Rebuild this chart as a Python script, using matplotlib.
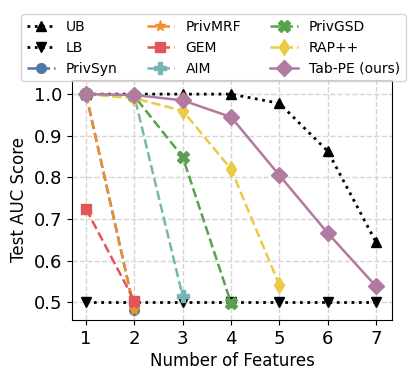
import matplotlib.pyplot as plt
import numpy as np

n_features = [1, 2, 3, 4, 5, 6, 7]

ub = [1.0, 1.0, 1.0, 1.0, 0.978, 0.863, 0.644]
lb = [0.5, 0.5, 0.5, 0.5, 0.5, 0.5, 0.5]
privsyn = [1.0, 0.481]
privmrf = [1.0, 0.481]
gem = [0.724, 0.503]
aim = [1.0, 0.995, 0.514]
privgsd = [1.0, 0.995, 0.849, 0.498]
rappp = [1.0, 0.99, 0.96, 0.82, 0.541]
tabpe = [1.0, 0.998, 0.985, 0.945, 0.805, 0.666, 0.538]

fig = plt.figure(figsize=(4.09, 3.69), dpi=100)
ax = fig.add_axes([72/409, 1 - 320/369, 320/409, 240/369])

# bounds first so the methods sit on top of them
ax.plot(n_features, ub, ':', color='black', marker='^', markersize=7, lw=2, label='UB')
ax.plot(n_features, lb, ':', color='black', marker='v', markersize=7, lw=2, label='LB')

def dashed(vals, color, marker, label, ms=7):
    ax.plot(n_features[:len(vals)], vals, '--', color=color, marker=marker,
            markersize=ms, lw=1.8, label=label)

dashed(privsyn, '#4e79a7', 'o', 'PrivSyn')
dashed(privmrf, '#f28e2b', '*', 'PrivMRF', ms=8)
dashed(gem, '#e15759', 's', 'GEM')
dashed(aim, '#76b7b2', 'P', 'AIM', ms=8)
dashed(privgsd, '#59a14f', 'X', 'PrivGSD', ms=8)
dashed(rappp, '#edc948', 'd', 'RAP++', ms=8)
ax.plot(n_features, tabpe, '-', color='#b07aa1', marker='D', markersize=8, lw=1.8,
        label='Tab-PE (ours)', zorder=4)

ax.set_xlim(0.71, 7.33)
ax.set_ylim(0.457, 1.034)
ax.set_xticks(n_features)
ax.set_yticks(np.arange(0.5, 1.01, 0.1))
ax.tick_params(labelsize=13)
ax.grid(True, ls='--', color='#d5d5d5', lw=1)
ax.set_axisbelow(True)
ax.set_xlabel('Number of Features', fontsize=12, labelpad=3)
ax.set_ylabel('Test AUC Score', fontsize=12)

handles, labels = ax.get_legend_handles_labels()
fig.legend(handles, labels, ncol=3, loc='upper center', bbox_to_anchor=(0.522, 0.98),
           fontsize=10, handlelength=2, columnspacing=2.1, labelspacing=0.5,
           borderpad=0.4, frameon=True)

fig.savefig('out.png', dpi=100)
